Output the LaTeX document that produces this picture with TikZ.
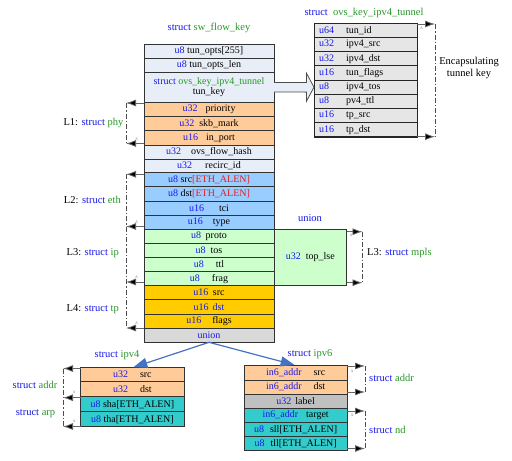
\documentclass[tikz,border=0pt]{standalone}
\usepackage{fontspec}
\setmainfont{Liberation Serif}
\usetikzlibrary{arrows.meta,calc}
\definecolor{tyblue}{RGB}{25,25,235}
\definecolor{stgreen}{RGB}{40,150,40}
\definecolor{lightrow}{RGB}{232,238,247}
\definecolor{peach}{RGB}{255,204,153}
\definecolor{ethblue}{RGB}{153,204,255}
\definecolor{ipgreen}{RGB}{204,255,204}
\definecolor{tpgold}{RGB}{255,204,0}
\definecolor{uniongray}{RGB}{217,217,217}
\definecolor{tealrow}{RGB}{51,204,204}
\definecolor{tungray}{RGB}{230,230,230}
\definecolor{labgray}{RGB}{192,192,192}
\definecolor{arrblue}{RGB}{68,114,196}
\definecolor{ethred}{RGB}{230,30,30}
\newcommand\ty[1]{\textcolor{tyblue}{#1}}
\newcommand\sg[1]{\textcolor{stgreen}{#1}}
\newcommand\MkRow[5]{\node[row,fill=#4,minimum height={#3-#2},anchor=north] (#1) at (209,#2) {#5};}
\newcommand\MkTun[4]{\node[tunrow,anchor=north west] (#1) at (314,#2) {\makebox[27pt][l]{\ty{#3}}#4};}
\newcommand\MkSub[6]{\node[row,minimum width=103.3,fill=#5,minimum height={#4-#3},anchor=north] (#1) at (#2,#3) {#6};}
\begin{document}
\begin{tikzpicture}[x=1pt,y=-1pt,font={\fontsize{10}{11.5}\selectfont},
  row/.style={draw=black!80,line width=0.8pt,minimum width=130,inner sep=0pt,outer sep=0pt,align=center},
  tunrow/.style={draw=black!85,line width=0.9pt,fill=tungray,minimum width=103.3,minimum height=14.2,text width=93.3,inner xsep=5,inner ysep=0,outer sep=0pt,align=left},
  harr/.style={draw=black!60,line width=0.8pt,-{Latex[length=10pt,width=7pt,fill=black]}},
  brk/.style={draw=black!70,line width=0.7pt,dash pattern=on 5pt off 2pt on 1.5pt off 2pt},
  barr/.style={draw=arrblue,line width=1.2pt,-{Triangle[length=14pt,width=10pt]}},
  tinyA/.style={font={\fontsize{4}{4}\selectfont},text=black!50,inner sep=0pt},
  lbl/.style={inner sep=0pt,font={\fontsize{10.5}{12}\selectfont}}]
\useasboundingbox (0,0) rectangle (512,461);

% titles
\node[lbl] (t0) at (209,28) {\ty{struct} \sg{sw\_flow\_key}};
\node[lbl] (t1) at (364,12.5) {\ty{struct}\hspace{0.5em}\sg{ovs\_key\_ipv4\_tunnel}};
\node[lbl] (t2) at (117,355.5) {\ty{struct} \sg{ipv4}};
\node[lbl] (t3) at (310,354) {\ty{struct} \sg{ipv6}};
\node[lbl] (un) at (310,218) {\ty{union}};

% main structure
\MkRow{r1}{44}{58}{lightrow}{\ty{u8} tun\_opts[255]}
\MkRow{r2}{58}{72.5}{lightrow}{\ty{u8} tun\_opts\_len}
\MkRow{r3}{72.5}{102}{lightrow}{\ty{struct} \sg{ovs\_key\_ipv4\_tunnel}\\[-1pt]tun\_key}
\MkRow{r4}{102}{116.5}{peach}{\ty{u32}\hspace{0.8em}priority}
\MkRow{r5}{116.5}{130.7}{peach}{\ty{u32}\hspace{0.5em}skb\_mark}
\MkRow{r6}{130.7}{145}{peach}{\ty{u16}\hspace{0.8em}in\_port}
\MkRow{r7}{145}{159.2}{lightrow}{\ty{u32}\hspace{1em}ovs\_flow\_hash}
\MkRow{r8}{159.2}{172.8}{lightrow}{\ty{u32}\hspace{1.3em}recirc\_id}
\MkRow{r9}{172.8}{186.8}{ethblue}{\ty{u8} src\textcolor{ethred}{[ETH\_ALEN]}}
\MkRow{r10}{186.8}{201}{ethblue}{\ty{u8} dst\textcolor{ethred}{[ETH\_ALEN]}}
\MkRow{r11}{201}{215.2}{ethblue}{\ty{u16}\hspace{1.5em}tci}
\MkRow{r12}{215.2}{229.3}{ethblue}{\ty{u16}\hspace{1em}type}
\MkRow{r13}{229.3}{243.3}{ipgreen}{\ty{u8}\hspace{0.45em}proto}
\MkRow{r14}{243.3}{257.4}{ipgreen}{\ty{u8}\hspace{0.5em}tos}
\MkRow{r15}{257.4}{271.6}{ipgreen}{\ty{u8}\hspace{1.2em}ttl}
\MkRow{r16}{271.6}{285.7}{ipgreen}{\ty{u8}\hspace{1.2em}frag}
\MkRow{r17}{285.7}{299.7}{tpgold}{\ty{u16}\hspace{0.45em}src}
\MkRow{r18}{299.7}{314}{tpgold}{\ty{u16}\hspace{0.4em}\ty{dst}}
\MkRow{r19}{314}{328.1}{tpgold}{\ty{u16}\hspace{1.1em}flags}
\MkRow{r20}{328.1}{342.3}{uniongray}{\ty{union}}

\node[row,fill=ipgreen,minimum width=72.7,minimum height=56.4,anchor=north west] (lse) at (274,229.3) {\ty{u32}\hspace{0.5em}top\_lse};

% tunnel structure
\MkTun{k1}{23.3}{u64}{tun\_id}
\MkTun{k2}{37.5}{u32}{ipv4\_src}
\MkTun{k3}{51.7}{u32}{ipv4\_dst}
\MkTun{k4}{65.9}{u16}{tun\_flags}
\MkTun{k5}{80.1}{u8}{ipv4\_tos}
\MkTun{k6}{94.3}{u8}{pv4\_ttl}
\MkTun{k7}{108.5}{u16}{tp\_src}
\MkTun{k8}{122.7}{u16}{tp\_dst}
\draw[draw=black!85,line width=0.6pt] (k1.north west) rectangle (k8.south east);

% block arrow
\draw[fill=lightrow,draw=black!70,line width=0.8pt]
  ($(r3.east)+(0,-4.8)$) -- (306.5,82.4) -- (306.5,73.3) -- (k5.west) -- (306.5,101.2) -- (306.5,92.1) -- ($(r3.east)+(0,4.8)$);

% ipv4
\MkSub{a1}{132.35}{367.3}{381.7}{peach}{\ty{u32}\hspace{1.2em}src}
\MkSub{a2}{132.35}{381.7}{396.7}{peach}{\ty{u32}\hspace{1.2em}dst}
\MkSub{a3}{132.35}{396.7}{411.7}{tealrow}{\ty{u8} sha[ETH\_ALEN]}
\MkSub{a4}{132.35}{411.7}{426.7}{tealrow}{\ty{u8} tha[ETH\_ALEN]}

% ipv6
\MkSub{b1}{295.65}{365}{380}{peach}{\ty{in6\_addr}\hspace{1.2em}src}
\MkSub{b2}{295.65}{380}{394.3}{peach}{\ty{in6\_addr}\hspace{1.2em}dst}
\MkSub{b3}{295.65}{394.3}{408.3}{labgray}{\ty{u32}\hspace{0.4em}label}
\MkSub{b4}{295.65}{408.3}{422.7}{tealrow}{\ty{in6\_addr}\hspace{0.8em}target}
\MkSub{b5}{295.65}{422.7}{436.7}{tealrow}{\ty{u8}\hspace{0.6em}sll[ETH\_ALEN]}
\MkSub{b6}{295.65}{436.7}{450.7}{tealrow}{\ty{u8}\hspace{0.6em}tll[ETH\_ALEN]}

% union arrows
\draw[barr] (r20.south) -- ($(a1.north)+(1,0)$);
\draw[barr] (r20.south) -- ($(b1.north)+(-1,0)$);

% left brackets of main structure
\coordinate (p1) at (126,103);
\coordinate (p2) at (126,143.5);
\coordinate (p3) at (126,174.3);
\coordinate (p4) at (126,226.5);
\coordinate (p5) at (126,282);
\coordinate (p6) at (126,328);
\draw[brk] (p1) -- (p2);
\draw[brk] (p3) -- (p6);
\draw[harr] (r4.west |- p1) -- (p1);
\draw[harr] (r6.west |- p2) -- (p2);
\draw[harr] (r9.west |- p3) -- (p3);
\draw[harr] (r12.west |- p4) -- (p4);
\draw[harr] (r16.west |- p5) -- (p5);
\draw[harr] (r19.west |- p6) -- (p6);
\node[lbl,anchor=east] (L1) at (123.5,122.5) {L1: \ty{struct} \sg{phy}};
\node[lbl,anchor=east] (L2) at (121,199.5) {L2: \ty{struct} \sg{eth}};
\node[lbl,anchor=east] (L3) at (119,253) {L3: \ty{struct} \sg{ip}};
\node[lbl,anchor=east] (L4) at (119,309) {L4: \ty{struct} \sg{tp}};
\node[tinyA] (A1) at (136.5,139) {A};
\node[tinyA] (A2) at (136.5,222) {A};
\node[tinyA] (A3) at (136.5,277.5) {A};
\node[tinyA] (A4) at (136.5,323.5) {A};

% mpls bracket
\coordinate (m1) at (362.5,231.7);
\coordinate (m2) at (362.5,282.7);
\draw[brk] (m1) -- (m2);
\draw[harr] (lse.east |- m1) -- (m1);
\draw[harr] (lse.east |- m2) -- (m2);
\node[lbl,anchor=west] (L3m) at (367,253) {L3: \ty{struct} \sg{mpls}};
\node[tinyA] (A5) at (351,235) {A};

% tunnel bracket
\coordinate (q1) at (435,24);
\coordinate (q2) at (435,136.7);
\draw[brk] (q1) -- (q2);
\draw[harr] (k1.east |- q1) -- (q1);
\draw[harr] (k8.east |- q2) -- (q2);
\node[lbl,align=center] (enc) at (469,67.5) {Encapsulating\\tunnel key};
\node[tinyA] (A6) at (421.5,28) {A};

% ipv4 brackets
\coordinate (s1) at (63,368.5);
\coordinate (s2) at (63,397.7);
\coordinate (s3) at (63,426.5);
\draw[brk] (s1) -- (s3);
\draw[harr] (a1.west |- s1) -- (s1);
\draw[harr] (a3.west |- s2) -- (s2);
\draw[harr] (a4.west |- s3) -- (s3);
\node[lbl] (sa) at (35,384.5) {\ty{struct} \sg{addr}};
\node[lbl] (sp) at (35.5,414) {\ty{struct} \sg{arp}};
\node[tinyA] (A7) at (74,392) {A};
\node[tinyA] (A8) at (74,421) {A};

% ipv6 brackets
\coordinate (u1) at (365,366);
\coordinate (u2) at (365,392);
\coordinate (u3) at (365,411);
\coordinate (u4) at (365,448.5);
\draw[brk] (u1) -- (u2);
\draw[brk] (u3) -- (u4);
\draw[harr] (b1.east |- u1) -- (u1);
\draw[harr] (b2.east |- u2) -- (u2);
\draw[harr] (b4.east |- u3) -- (u3);
\draw[harr] (b6.east |- u4) -- (u4);
\node[lbl,anchor=west] (sa6) at (369,377.5) {\ty{struct} \sg{addr}};
\node[lbl,anchor=west] (snd) at (369,430) {\ty{struct} \sg{nd}};
\node[tinyA] (A9) at (352,371) {A};
\node[tinyA] (A10) at (352,415.5) {A};
\end{tikzpicture}
\end{document}
